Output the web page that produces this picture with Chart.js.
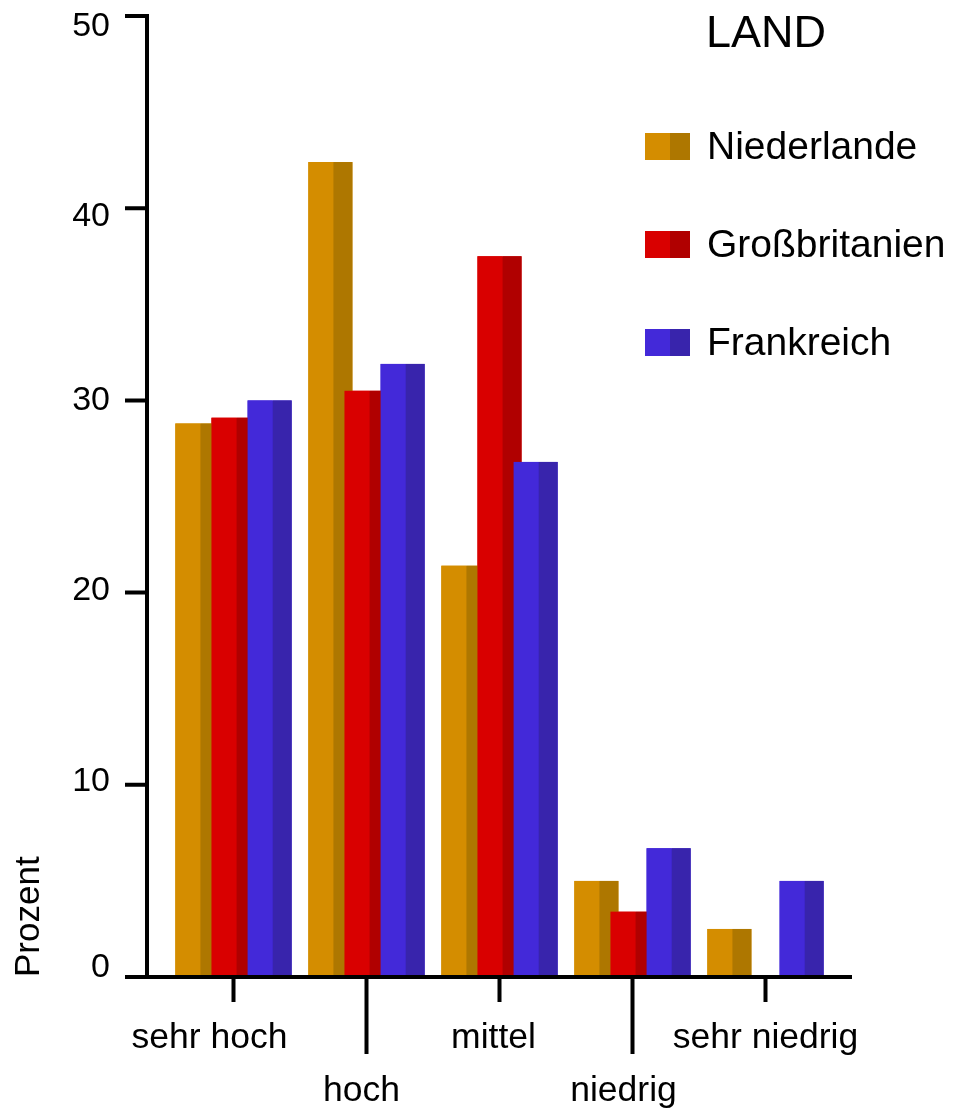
<!DOCTYPE html>
<html>
<head>
<meta charset="utf-8">
<script src="https://cdn.jsdelivr.net/npm/chart.js@4.4.1/dist/chart.umd.min.js"></script>
<style>
  html, body { margin: 0; padding: 0; background: #fff; }
</style>
</head>
<body>
<canvas id="bargraph" width="963" height="1108"></canvas>
<script>
// data
var categories = ['sehr hoch', 'hoch', 'mittel', 'niedrig', 'sehr niedrig'];
var niederlande = [28.8, 42.4, 21.4, 5.0, 2.5];
var grossbritanien = [29.1, 30.5, 37.5, 3.4, 0];
var frankreich = [30.0, 31.9, 26.8, 6.7, 5.0];
var yTicks = [0, 10, 20, 30, 40, 50];
var legendTitle = 'LAND';
var seriesNames = ['Niederlande', 'Großbritanien', 'Frankreich'];

var lightColors = ['#D48D00', '#D90000', '#4329D9'];
var darkColors = ['#AE7700', '#B00000', '#3824AC'];

// small nudges of the labels, as in the picture
var xLabelShift = [-24, -5, -6, -9, 0];
var yLabelShift = [-9, -3, -2, 0, 8, 11];

var FONT = "'Liberation Sans', Arial, sans-serif";
Chart.defaults.font.family = FONT;
Chart.defaults.color = '#000';

// redraw bars first-to-last so later series overlap earlier ones, with darker right part
var shadePlugin = {
    id: 'shade',
    afterDatasetsDraw: function (chart) {
        var ctx = chart.ctx;
        ctx.save();
        chart.data.datasets.forEach(function (ds, d) {
            var meta = chart.getDatasetMeta(d);
            meta.data.forEach(function (bar) {
                var p = bar.getProps(['x', 'y', 'base', 'width'], true);
                var left = p.x - p.width / 2;
                var split = p.width * 0.57;
                ctx.fillStyle = lightColors[d];
                ctx.fillRect(left, p.y, split, p.base - p.y);
                ctx.fillStyle = darkColors[d];
                ctx.fillRect(left + split, p.y, p.width - split, p.base - p.y);
            });
        });
        ctx.restore();
    }
};

// axis lines, tick marks and tick labels
var axesPlugin = {
    id: 'axes',
    afterDraw: function (chart) {
        var ctx = chart.ctx, xs = chart.scales.x, ys = chart.scales.y;
        var ax = chart.chartArea.left - 20;
        var ay = ys.getPixelForValue(0);
        ctx.save();
        ctx.strokeStyle = '#000';
        ctx.lineWidth = 4;
        ctx.beginPath();
        ctx.moveTo(ax, ys.getPixelForValue(50) - 2);
        ctx.lineTo(ax, ay + 2);
        ctx.moveTo(ax - 22, ay);
        ctx.lineTo(chart.chartArea.right + 20, ay);
        yTicks.forEach(function (v) {
            var py = ys.getPixelForValue(v);
            ctx.moveTo(ax - 22, py);
            ctx.lineTo(ax, py);
        });
        categories.forEach(function (c, i) {
            var px = xs.getPixelForValue(i);
            ctx.moveTo(px, ay);
            ctx.lineTo(px, ay + (i % 2 ? 77 : 25));
        });
        ctx.stroke();

        ctx.fillStyle = '#000';
        ctx.font = '34px ' + FONT;
        ctx.textAlign = 'right';
        ctx.textBaseline = 'middle';
        yTicks.forEach(function (v, i) {
            ctx.fillText(String(v), 110, ys.getPixelForValue(v) + yLabelShift[i]);
        });

        ctx.font = '35.5px ' + FONT;
        ctx.textAlign = 'center';
        ctx.textBaseline = 'alphabetic';
        categories.forEach(function (c, i) {
            var px = xs.getPixelForValue(i) + xLabelShift[i];
            ctx.fillText(c, px, ay + (i % 2 ? 124 : 71));
        });
        ctx.restore();
    }
};

// legend in the upper right corner
var legendPlugin = {
    id: 'landLegend',
    afterDraw: function (chart) {
        var ctx = chart.ctx;
        ctx.save();
        ctx.fillStyle = '#000';
        ctx.textBaseline = 'alphabetic';
        ctx.font = '45px ' + FONT;
        ctx.fillText(legendTitle, 706, 47);
        ctx.font = '39px ' + FONT;
        chart.data.datasets.forEach(function (ds, d) {
            var top = 133 + d * 98;
            ctx.fillStyle = lightColors[d];
            ctx.fillRect(645, top, 25, 27);
            ctx.fillStyle = darkColors[d];
            ctx.fillRect(670, top, 20, 27);
            ctx.fillStyle = '#000';
            ctx.fillText(ds.label, 707, top + 26);
        });
        ctx.restore();
    }
};

function initBarGraph() {
    var ctx = document.getElementById('bargraph').getContext('2d');
    var chart = new Chart(ctx, {
        type: 'bar',
        data: {
            labels: categories,
            datasets: [
                { label: seriesNames[0], data: niederlande, backgroundColor: lightColors[0] },
                { label: seriesNames[1], data: grossbritanien, backgroundColor: lightColors[1] },
                { label: seriesNames[2], data: frankreich, backgroundColor: lightColors[2] }
            ]
        },
        options: {
            responsive: false,
            animation: false,
            barPercentage: 1.22,
            categoryPercentage: 0.815,
            layout: { padding: { top: 16, right: 131, left: 0, bottom: 0 } },
            plugins: {
                legend: { display: false },
                tooltip: { enabled: false }
            },
            scales: {
                x: {
                    grid: { display: false, drawTicks: false },
                    border: { display: false },
                    ticks: { display: false },
                    afterFit: function (s) {
                        s.height = 131;
                        s.paddingLeft = 0;
                        s.paddingRight = 0;
                    }
                },
                y: {
                    min: 0,
                    max: 50,
                    grid: { display: false, drawTicks: false },
                    border: { display: false },
                    ticks: { display: false },
                    title: {
                        display: true,
                        text: 'Prozent',
                        align: 'start',
                        padding: { top: 8, bottom: 0 },
                        font: { size: 35 }
                    },
                    afterFit: function (s) {
                        s.width = 167;
                        s.paddingTop = 0;
                        s.paddingBottom = 0;
                    }
                }
            }
        },
        plugins: [shadePlugin, axesPlugin, legendPlugin]
    });
}

initBarGraph();
</script>
</body>
</html>
